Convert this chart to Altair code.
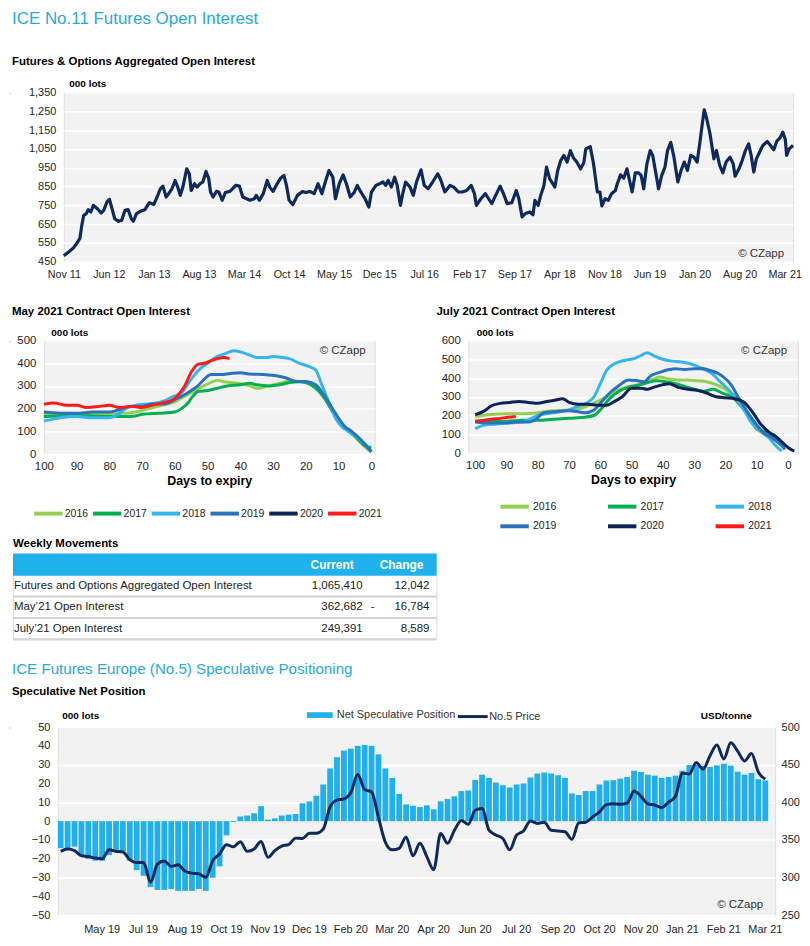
import altair as alt
import pandas as pd

SANS = "Liberation Sans, Arial, sans-serif"
NARROW = "Liberation Sans Narrow, Arial Narrow, Liberation Sans, sans-serif"
TITLE_BLUE = "#29a9e1"
NAVY = "#0e2a5c"
BG = "#f2f2f2"
BAR_BLUE = "#21b0eb"
LABEL = "#262626"

# ---------------- Chart 1: aggregated open interest ----------------
oi_month = [0, 0.8, 1.5, 2.0, 2.5, 2.8, 3.1, 3.5, 3.8, 4.2, 4.6, 4.9, 5.3, 5.8, 6.2, 6.7, 7.1, 7.5, 7.9, 8.5,
            9.0, 9.5, 10.0, 10.5, 10.8, 11.3, 11.9, 12.6, 13.3, 14.0, 14.6, 15.0, 15.4, 15.9, 16.3, 16.8, 17.3,
            17.7, 18.1, 18.5, 19.1, 19.5, 19.8, 20.3, 20.7, 21.2, 21.6, 22.1, 22.5, 22.8, 23.2, 23.7, 24.1, 24.6,
            25.1, 25.8, 26.2, 26.7, 27.3, 27.8, 28.4, 28.9, 29.6, 29.9, 30.4, 31.0, 31.6, 32.0, 32.5, 33.0, 33.7,
            34.2, 34.6, 35.0, 35.6, 36.3, 37.1, 37.6, 38.2, 38.9, 39.5, 40.1, 40.7, 41.2, 41.8, 42.2, 42.8, 43.4,
            43.9, 44.5, 45.1, 45.6, 46.1, 46.8, 47.4, 47.8, 48.5, 49.1, 49.6, 50.0, 50.4, 50.9, 51.4, 51.8, 52.3,
            52.7, 53.1, 53.8, 54.3, 54.8, 55.5, 56.0, 56.6, 57.3, 58.1, 58.6, 59.2, 60.0, 60.6, 61.3, 61.9, 62.6,
            63.3, 63.8, 64.1, 64.8, 65.5, 66.0, 66.5, 67.1, 67.8, 68.3, 68.9, 69.6, 70.3, 70.7, 71.2, 71.7, 72.4,
            72.9, 73.2, 73.7, 74.1, 74.6, 75.0, 75.5, 75.8, 76.3, 76.7, 77.2, 77.7, 78.2, 78.7, 79.2, 79.7, 80.3,
            80.8, 81.1, 81.8, 82.3, 82.9, 83.3, 83.6, 84.1, 84.6, 85.1, 85.7, 86.0, 86.5, 87.0, 87.5, 87.9, 88.3,
            88.8, 89.3, 89.7, 90.1, 90.6, 91.1, 91.5, 92.0, 92.4, 92.9, 93.4, 93.8, 94.3, 94.8, 95.4, 95.9, 96.4,
            96.9, 97.4, 97.9, 98.4, 98.8, 99.2, 99.5, 99.9, 100.4, 101.0, 101.4, 101.9, 102.4, 102.9, 103.5, 104.0,
            104.3, 104.9, 105.4, 105.9, 106.4, 106.8, 107.2, 107.6, 108.1, 108.6, 109.3, 109.8, 110.3, 110.8,
            111.3, 111.7, 112.1, 112.3, 112.7, 113.3]
oi_value = [482, 503, 524, 547, 574, 644, 697, 706, 727, 715, 750, 741, 729, 709, 723, 768, 782, 732, 679, 665,
            671, 723, 727, 679, 665, 706, 718, 727, 764, 755, 803, 838, 852, 794, 812, 838, 882,
            847, 803, 847, 944, 918, 829, 865, 847, 865, 874, 930, 895, 821, 794, 824, 821, 777,
            818, 824, 838, 856, 852, 794, 785, 777, 785, 803, 777, 812, 882, 847, 824, 856, 895,
            909, 856, 777, 754, 803, 824, 818, 824, 812, 865, 812, 882, 935, 900, 785, 865, 912,
            865, 794, 818, 856, 824, 785, 741, 821, 856, 865, 874, 856, 882, 847, 900, 856, 750,
            818, 874, 847, 803, 874, 939, 856, 838, 874, 918, 882, 821, 856, 847, 821, 821, 829,
            856, 812, 750, 785, 812, 785, 759, 803, 852, 812, 759, 764, 829, 785, 688, 706, 715,
            700, 777, 750, 803, 856, 953, 891, 874, 847, 930, 988, 1015, 980, 1041, 1001, 980, 944,
            977, 1050, 1062, 971, 821, 821, 747, 785, 777, 812, 829, 865, 912, 895, 944, 882, 821,
            923, 923, 909, 838, 971, 1041, 1015, 918, 838, 909, 953, 1041, 1085, 1006, 874, 935, 980,
            935, 1015, 1006, 980, 1077, 1183, 1258, 1209, 1130, 997, 1041, 962, 923, 980, 1006, 971,
            905, 944, 988, 1041, 1077, 1015, 927, 997, 1032, 1068, 1089, 1068, 1045, 1092,
            1110, 1139, 1100, 1015, 1050, 1068]
oi_tick_labels = ["Nov 11", "Jun 12", "Jan 13", "Aug 13", "Mar 14", "Oct 14", "May 15", "Dec 15", "Jul 16",
                  "Feb 17", "Sep 17", "Apr 18", "Nov 18", "Jun 19", "Jan 20", "Aug 20", "Mar 21"]

# ---------------- May 2021 contract ----------------
years = ["2016", "2017", "2018", "2019", "2020", "2021"]
year_colors = ["#92d050", "#00b050", "#33b6f0", "#2a72be", "#0d2357", "#ff1a1a"]

may16_d = [100, 95, 90, 85, 80, 75, 72, 68, 64, 60, 57, 55, 52, 49, 47, 45, 43, 40, 37, 35, 34, 32, 30, 27, 25, 22, 20, 17, 15, 12, 9, 6, 4, 1, 0]
may16_v = [172, 175, 178, 178, 178, 180, 185, 200, 215, 230, 255, 270, 295, 315, 325, 318, 315, 310, 300, 290, 290, 298, 305, 315, 322, 320, 315, 290, 260, 200, 130, 90, 60, 20, 10]
may17_d = [100, 95, 90, 85, 80, 75, 72, 70, 65, 60, 58, 56, 55, 53, 50, 47, 44, 40, 37, 35, 31, 28, 25, 22, 20, 17, 14, 12, 9, 7, 5, 3, 1, 0]
may17_v = [165, 168, 170, 168, 165, 165, 168, 175, 180, 185, 200, 225, 245, 275, 280, 290, 300, 305, 312, 305, 300, 305, 315, 318, 315, 290, 240, 190, 130, 100, 80, 50, 30, 30]
may18_d = [100, 97, 95, 90, 85, 80, 78, 75, 72, 68, 63, 61, 58, 55, 52, 50, 47, 45, 42, 40, 37, 35, 32, 30, 27, 25, 22, 19, 17, 15, 13, 11, 9, 7, 4, 1, 0]
may18_v = [145, 155, 160, 165, 160, 160, 170, 200, 215, 220, 235, 250, 270, 330, 380, 400, 430, 440, 455, 450, 435, 425, 425, 430, 425, 420, 400, 385, 370, 300, 230, 160, 120, 100, 70, 30, 10]
may19_d = [100, 95, 90, 85, 80, 77, 74, 70, 67, 63, 60, 56, 53, 51, 49, 46, 43, 40, 37, 33, 29, 26, 23, 20, 17, 14, 11, 8, 6, 3, 0]
may19_v = [185, 180, 180, 185, 185, 195, 210, 210, 220, 220, 240, 270, 300, 330, 350, 350, 355, 358, 352, 350, 345, 335, 320, 320, 305, 250, 180, 120, 100, 60, 10]
may21_d = [100, 97, 93, 90, 87, 83, 80, 77, 73, 70, 67, 64, 61, 59, 57, 55, 53, 51, 49, 47, 45, 43.3]
may21_v = [220, 225, 215, 215, 205, 210, 215, 205, 210, 205, 215, 225, 235, 260, 300, 360, 395, 400, 410, 420, 425, 420]

# ---------------- July 2021 contract ----------------
jul16_d = [100, 95, 90, 85, 80, 75, 70, 66, 63, 59, 55, 52, 49, 46, 43, 41, 38, 35, 32, 29, 26, 23, 20, 18, 15, 12, 10, 7, 4, 2, 1]
jul16_v = [195, 205, 210, 210, 215, 225, 230, 240, 260, 290, 330, 350, 360, 375, 395, 405, 395, 390, 390, 385, 380, 365, 340, 310, 260, 180, 130, 100, 70, 40, 30]
jul17_d = [100, 95, 90, 85, 80, 75, 70, 66, 62, 60, 57, 54, 51, 48, 45, 42, 39, 36, 33, 30, 27, 24, 21, 18, 15, 12, 10, 7, 4, 1]
jul17_v = [170, 170, 170, 175, 175, 180, 185, 190, 200, 230, 290, 330, 350, 360, 375, 385, 380, 370, 355, 340, 330, 340, 320, 300, 250, 180, 130, 110, 80, 35]
jul18_d = [100, 97, 93, 90, 85, 80, 75, 70, 67, 64, 62, 60, 58, 55, 52, 49, 47, 45, 43, 40, 37, 34, 31, 28, 26, 24, 22, 20, 17, 14, 12, 9, 6, 4, 2]
jul18_v = [130, 150, 155, 160, 165, 200, 215, 230, 250, 270, 300, 370, 440, 480, 495, 505, 520, 535, 520, 500, 490, 485, 475, 455, 440, 420, 385, 355, 300, 230, 170, 120, 80, 40, 10]
jul19_d = [100, 95, 90, 87, 83, 81, 78, 75, 70, 67, 65, 62, 60, 57, 54, 51, 48, 46, 44, 41, 38, 36, 33, 30, 27, 25, 23, 21, 18, 16, 13, 10, 8, 5, 2, 1]
jul19_v = [165, 160, 160, 165, 165, 175, 215, 220, 225, 220, 215, 230, 265, 320, 360, 390, 385, 380, 410, 430, 445, 450, 445, 450, 450, 440, 430, 410, 360, 300, 220, 150, 110, 80, 40, 20]
jul20_d = [100, 97, 95, 92, 89, 86, 83, 80, 77, 75, 72, 70, 67, 64, 61, 58, 56, 53, 50, 47, 45, 43, 40, 38, 35, 32, 29, 26, 23, 20, 17, 14, 11, 9, 6, 4, 2, 0, -2]
jul20_v = [205, 225, 250, 265, 270, 275, 270, 265, 275, 280, 290, 270, 260, 260, 255, 255, 270, 300, 345, 345, 340, 350, 365, 370, 350, 340, 335, 320, 300, 295, 290, 270, 210, 160, 110, 90, 60, 30, 10]
jul21_d = [100, 97, 95, 92, 90, 87]
jul21_v = [170, 175, 180, 185, 190, 195]

# ---------------- Weekly movements table ----------------
tbl_names = ["Futures and Options Aggregated Open Interest", "May\u201921 Open Interest", "July\u201921 Open Interest"]
tbl_current = ["1,065,410", "362,682", "249,391"]
tbl_sign = ["", "-", ""]
tbl_change = ["12,042", "16,784", "8,589"]
tbl_headers = ["Current", "Change"]

# ---------------- Speculative positioning ----------------
spec_net = [-14.3, -15, -13.5, -18, -20, -21, -21, -18, -16, -16, -21, -26, -29, -35, -36.5, -36.5, -36, -37, -37, -37,
            -36, -37, -30, -24, -7.5, -0.5, 2.5, 3, 4.2, 8, 0.8, 1.5, 3, 3.5, 3.8, 9.5, 10.5, 13.5, 19.5, 28,
            34, 37.5, 38.5, 40, 40.5, 40, 35.5, 28, 23, 14.5, 8.9, 8.2, 7.5, 8.4, 6.3, 10.5, 11.8, 13.2, 16, 16.3,
            21.9, 24.7, 23, 20.5, 19.1, 17.9, 19.5, 20, 23.2, 25.3, 25.8, 25.3, 24.4, 23, 14.7, 13.9, 16, 16, 19.5, 21.6,
            21.8, 22.6, 23.5, 26.8, 26.1, 24.7, 24.2, 23, 23.5, 24.2, 26.8, 29.8, 29.8, 29.3, 28.8, 29.6, 30.5, 29.5, 26.3, 24.7,
            25.6, 22.3, 21.6]
no5_price = [335, 338, 336, 329, 328, 326, 325, 337, 335, 334, 324, 320, 320, 294, 318, 322, 315, 317, 308.5, 306,
             305, 300.5, 322.5, 331.5, 343.8, 341, 347.7, 335, 338, 348, 327, 336, 342, 343.8, 352.5, 352, 359, 359, 364.5, 394,
             403, 404.5, 413, 437, 417, 414, 380, 347, 337, 339, 354, 329, 345.6, 328, 310.5, 358.8, 345.6, 363, 376, 371,
             389.5, 391.7, 363, 356.6, 352, 337, 356.6, 362, 375.4, 372, 373.7, 363, 362, 361, 351, 372.8, 373.7, 380.7, 387.3, 397,
             398, 397.4, 399, 415, 408, 398, 396.5, 393, 400.4, 408, 438.6, 437.7, 453, 444, 462, 476, 457.5, 479, 468, 455,
             465, 440, 431]
spec_tick_labels = ["May 19", "Jul 19", "Aug 19", "Oct 19", "Nov 19", "Dec 19", "Feb 20", "Mar 20", "Apr 20",
                    "Jun 20", "Jul 20", "Sep 20", "Oct 20", "Nov 20", "Jan 21", "Feb 21", "Mar 21"]
spec_series = ["Net Speculative Position", "No.5 Price"]

LONG_STROKE = "M-1.5,0L1.5,0"


def js_list(items):
    return "[" + ",".join("'" + s + "'" for s in items) + "]"


def copyright_layer(x, y):
    return alt.Chart(pd.DataFrame({"t": ["\u00a9 CZapp"]})).mark_text(
        align="right", baseline="middle", font=SANS, fontSize=11.5, color="#333333"
    ).encode(x=alt.value(x), y=alt.value(y), text="t:N")


def spacer():
    # invisible 1px cell that anchors each row at the page's left edge
    return alt.Chart(pd.DataFrame({"s": [""]})).mark_text(fontSize=1, align="left", baseline="top").encode(
        x=alt.value(0), y=alt.value(0), text="s:N").properties(width=1, height=1)


# ---------- Chart 1 ----------
oi_df = pd.DataFrame({"m": oi_month, "v": oi_value})
c1_line = alt.Chart(oi_df).mark_line(color=NAVY, strokeWidth=3.2, strokeJoin="round").encode(
    x=alt.X("m:Q", scale=alt.Scale(domain=[0, 113.3], nice=False, zero=False),
            axis=alt.Axis(values=list(range(0, 113, 7)), labelExpr=js_list(oi_tick_labels) + "[round(datum.value/7)]",
                          title=None, grid=False, domain=False, ticks=False, labelFont=NARROW, labelFontSize=10.8,
                          labelColor=LABEL, labelPadding=7, labelFlush=False)),
    y=alt.Y("v:Q", scale=alt.Scale(domain=[450, 1350], nice=False, zero=False),
            axis=alt.Axis(values=list(range(450, 1351, 100)), format=",.0f", title="000 lots", titleAngle=0,
                          titleX=5, titleY=-9, titleAlign="left", titleBaseline="middle", titleFontWeight="bold",
                          titleFontSize=10, titleFont=SANS, grid=True, gridColor="white", gridWidth=1.5,
                          domain=False, ticks=False, labelFont=NARROW, labelFontSize=11, labelColor=LABEL,
                          labelPadding=8)),
)
chart1 = alt.layer(c1_line, copyright_layer(723, 162)).properties(
    width=732, height=170, view=alt.ViewBackground(fill=BG),
    title=alt.Title("ICE No.11 Futures Open Interest", subtitle="Futures & Options Aggregated Open Interest",
                    anchor="start", frame="group", dx=-52, font=NARROW, fontSize=17, fontWeight="normal",
                    color=TITLE_BLUE, subtitleFont=SANS, subtitleFontSize=11.5, subtitleFontWeight="bold",
                    subtitleColor="black", subtitlePadding=28, offset=10),
)


# ---------- Contract charts ----------
def contract_df(series):
    rows = []
    for yr, ds, vs in series:
        for d, v in zip(ds, vs):
            rows.append({"day": d, "val": v, "year": yr})
    return pd.DataFrame(rows)


may_df = contract_df([("2016", may16_d, may16_v), ("2017", may17_d, may17_v), ("2018", may18_d, may18_v),
                      ("2019", may19_d, may19_v), ("2021", may21_d, may21_v)])
jul_df = contract_df([("2016", jul16_d, jul16_v), ("2017", jul17_d, jul17_v), ("2018", jul18_d, jul18_v),
                      ("2019", jul19_d, jul19_v), ("2020", jul20_d, jul20_v), ("2021", jul21_d, jul21_v)])


def contract_chart(df, xdom, ymax, title, legend, cx, cy, title_offset, lots_x, w, h):
    lines = alt.Chart(df).mark_line(strokeWidth=3, interpolate="monotone", strokeJoin="round").encode(
        x=alt.X("day:Q", scale=alt.Scale(domain=xdom, nice=False, zero=False),
                axis=alt.Axis(values=list(range(0, 101, 10)), title="Days to expiry", titleFontWeight="bold",
                              titleFontSize=12.5, titleFont=SANS, titlePadding=3, labelFontSize=11.5,
                              labelFont=SANS, labelColor=LABEL, domain=False, ticks=False, grid=False,
                              labelPadding=6, labelFlush=False)),
        y=alt.Y("val:Q", scale=alt.Scale(domain=[0, ymax], nice=False),
                axis=alt.Axis(values=list(range(0, ymax + 1, 100)), title="000 lots", titleAngle=0, titleX=lots_x,
                              titleY=-8, titleAlign="left", titleBaseline="middle", titleFontWeight="bold",
                              titleFontSize=10, titleFont=SANS, grid=True, gridColor="white", gridWidth=1.5,
                              domain=False, ticks=False, labelFont=SANS, labelFontSize=11.5, labelColor=LABEL,
                              labelPadding=8)),
        color=alt.Color("year:N", scale=alt.Scale(domain=years, range=year_colors), legend=legend),
        detail="year:N",
    )
    return alt.layer(lines, copyright_layer(cx, cy)).properties(
        width=w, height=h, view=alt.ViewBackground(fill=BG),
        title=alt.Title(title, anchor="start", frame="group", dx=-32, font=SANS, fontSize=11.5,
                        fontWeight="bold", color="black", offset=title_offset),
    )


may_legend = alt.Legend(orient="none", legendX=-7, legendY=162, direction="horizontal", columns=6, title=None,
                        symbolType=LONG_STROKE, symbolSize=361, symbolStrokeWidth=4, labelFont=SANS,
                        labelFontSize=10.5, labelColor=LABEL, columnPadding=-4, labelOffset=5)
jul_legend = alt.Legend(orient="none", legendX=35, legendY=155, direction="horizontal", columns=3, title=None,
                        symbolType=LONG_STROKE, symbolSize=361, symbolStrokeWidth=4, labelFont=SANS,
                        labelFontSize=10.5, labelColor=LABEL, columnPadding=43, rowPadding=0, labelOffset=7)

may_chart = contract_chart(may_df, [100, -1], 500, "May 2021 Contract Open Interest", may_legend, 323, 11, 10, 7,
                           332, 114)
jul_chart = contract_chart(jul_df, [102.2, -3.2], 600, "July 2021 Contract Open Interest", jul_legend, 320, 11, 10,
                           8, 331, 113)

pair = alt.hconcat(may_chart, jul_chart, spacing=52).resolve_scale(color="independent")
row1 = alt.hconcat(spacer(), chart1, spacing=0)
row2 = alt.hconcat(spacer(), pair, spacing=0).resolve_scale(color="independent")

# ---------- Table ----------
tbl_df = pd.DataFrame({"name": tbl_names, "current": tbl_current, "sign": tbl_sign, "change": tbl_change,
                       "row": [1, 2, 3]})
hdr_df = pd.DataFrame({"h": tbl_headers})
yscale = alt.Scale(domain=[0, 4], reverse=True, nice=False, zero=False)
hdr_kw = dict(align="right", baseline="middle", font=SANS, fontSize=12, fontWeight="bold", color="white")

t_header_bg = alt.Chart(hdr_df).mark_rect(color="#1fb1eb").encode(
    x=alt.value(0), x2=alt.value(425), y=alt.value(0), y2=alt.value(22))
t_hdr_cur = alt.Chart(hdr_df).transform_filter(alt.datum.h == tbl_headers[0]).mark_text(**hdr_kw).encode(
    x=alt.value(342), y=alt.value(11), text="h:N")
t_hdr_chg = alt.Chart(hdr_df).transform_filter(alt.datum.h == tbl_headers[1]).mark_text(**hdr_kw).encode(
    x=alt.value(412), y=alt.value(11), text="h:N")
base_rows = alt.Chart(tbl_df).transform_calculate(yc="datum.row + 0.5", sep="datum.row + 1")
t_sep = base_rows.mark_rule(color="#d4d4d4", strokeWidth=2).encode(
    x=alt.value(0), x2=alt.value(425), y=alt.Y("sep:Q", scale=yscale, axis=None))
txt_kw = dict(baseline="middle", font=SANS, fontSize=11.5, color="#1a1a1a")
t_names = base_rows.mark_text(align="left", **txt_kw).encode(
    x=alt.value(1), y=alt.Y("yc:Q", scale=yscale, axis=None), text="name:N")
t_cur = base_rows.mark_text(align="right", **txt_kw).encode(
    x=alt.value(351), y=alt.Y("yc:Q", scale=yscale, axis=None), text="current:N")
t_sign = base_rows.mark_text(align="center", **txt_kw).encode(
    x=alt.value(361), y=alt.Y("yc:Q", scale=yscale, axis=None), text="sign:N")
t_chg = base_rows.mark_text(align="right", **txt_kw).encode(
    x=alt.value(418), y=alt.Y("yc:Q", scale=yscale, axis=None), text="change:N")
table = alt.layer(t_header_bg, t_sep, t_hdr_cur, t_hdr_chg, t_names, t_cur, t_sign, t_chg).properties(
    width=425, height=86,
    title=alt.Title("Weekly Movements", anchor="start", frame="group", dx=0, font=SANS, fontSize=11.5,
                    fontWeight="bold", color="black", offset=4),
)
row3 = alt.hconcat(spacer(), table, spacing=0)

# ---------- Speculative positioning ----------
spec_df = pd.DataFrame({"wk": list(range(len(spec_net))), "net": spec_net, "price": no5_price})
x_spec = alt.X("wk:O", scale=alt.Scale(domain=list(range(104)), paddingInner=0.16, paddingOuter=0),
               axis=alt.Axis(values=list(range(6, 103, 6)), labelExpr=js_list(spec_tick_labels) + "[datum.value/6 - 1]",
                             labelAngle=0, title=None, domain=False, ticks=False, labelFont=NARROW,
                             labelFontSize=11, labelColor=LABEL, labelPadding=8))
bars = alt.Chart(spec_df).transform_calculate(series="'" + spec_series[0] + "'").mark_bar().encode(
    x=x_spec,
    y=alt.Y("net:Q", scale=alt.Scale(domain=[-50, 50], nice=False),
            axis=alt.Axis(values=list(range(-50, 51, 10)), title="000 lots", titleAngle=0, titleX=4, titleY=-12,
                          titleAlign="left", titleBaseline="middle", titleFontWeight="bold", titleFontSize=10,
                          titleFont=SANS, grid=False, domain=False, ticks=False, labelFont=NARROW,
                          labelFontSize=11, labelColor=LABEL, labelPadding=8)),
    color=alt.Color("series:N", scale=alt.Scale(domain=[spec_series[0]], range=[BAR_BLUE]),
                    legend=alt.Legend(orient="none", legendX=250, legendY=-25, title=None,
                                      symbolType="M-1,-0.22L1,-0.22L1,0.22L-1,0.22Z", symbolSize=676,
                                      symbolStrokeWidth=0, labelFont=NARROW, labelFontSize=11,
                                      labelColor="#333333", labelOffset=4)),
)
price = alt.Chart(spec_df).transform_calculate(series="'" + spec_series[1] + "'").mark_line(
    strokeWidth=3, interpolate="monotone", strokeJoin="round").encode(
    x=x_spec,
    y=alt.Y("price:Q", scale=alt.Scale(domain=[250, 500], nice=False, zero=False),
            axis=alt.Axis(orient="right", values=list(range(250, 501, 50)), title="USD/tonne", titleAngle=0,
                          titleX=-24, titleY=-12, titleAlign="right", titleBaseline="middle",
                          titleFontWeight="bold", titleFontSize=10, titleFont=SANS, grid=True, gridColor="white",
                          gridWidth=1.5, domain=False, ticks=False, labelFont=NARROW, labelFontSize=11,
                          labelColor=LABEL, labelPadding=6)),
    stroke=alt.Stroke("series:N", scale=alt.Scale(domain=[spec_series[1]], range=[NAVY]),
                      legend=alt.Legend(orient="none", legendX=400, legendY=-27, title=None, symbolType="stroke",
                                        symbolSize=900, symbolStrokeWidth=3, labelFont=NARROW,
                                        labelFontSize=11, labelColor="#333333", labelOffset=0)),
)
bottom = alt.layer(bars, price, copyright_layer(708, 179)).resolve_scale(y="independent").properties(
    width=720, height=189, view=alt.ViewBackground(fill=BG),
    title=alt.Title("ICE Futures Europe (No.5) Speculative Positioning", subtitle="Speculative Net Position",
                    anchor="start", frame="group", dx=-46, font=NARROW, fontSize=15.2, fontWeight="normal",
                    color=TITLE_BLUE, subtitleFont=SANS, subtitleFontSize=11.5, subtitleFontWeight="bold",
                    subtitleColor="black", subtitlePadding=9, offset=3),
)
row4 = alt.hconcat(spacer(), bottom, spacing=0).resolve_scale(color="independent", stroke="independent")

top_part = alt.vconcat(row1, row2, spacing=25).resolve_scale(color="independent")
bottom_part = alt.vconcat(row3, row4, spacing=19).resolve_scale(color="independent", stroke="independent")
chart = alt.vconcat(top_part, bottom_part, spacing=2).properties(padding=0).resolve_scale(
    color="independent", stroke="independent"
).configure_view(strokeWidth=0).configure(background="white")

chart.save("out.html", embed_options={"renderer": "svg", "actions": False})
